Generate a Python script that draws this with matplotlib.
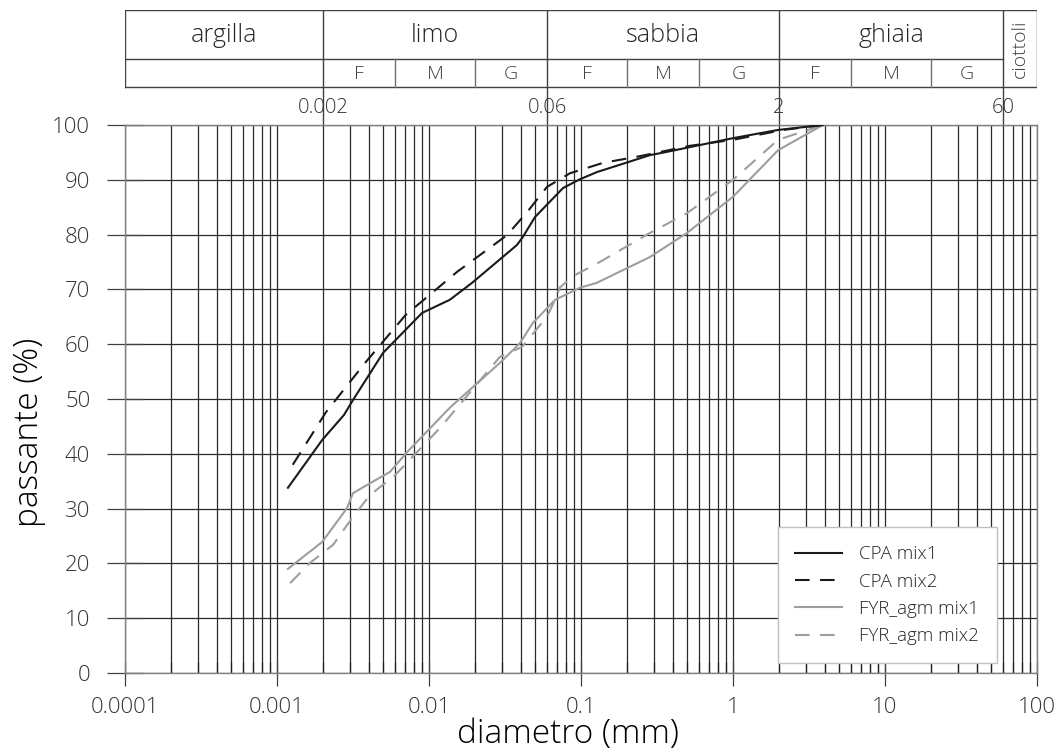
import numpy as np
import matplotlib
matplotlib.use('Agg')
import matplotlib.pyplot as plt
from matplotlib.ticker import FixedLocator, LogLocator, NullFormatter

plt.rcParams['font.family'] = ['Open Sans', 'DejaVu Sans']
plt.rcParams['font.weight'] = 'light'
plt.rcParams['axes.labelweight'] = 'light'
plt.rcParams['text.color'] = '#262626'

# grain size curves (diameter in mm, passing in %)
cpa1_d = [0.00118, 0.00198, 0.00276, 0.00316, 0.00498, 0.009, 0.0137, 0.0192,
          0.0379, 0.0415, 0.0498, 0.0762, 0.0984, 0.127, 0.284, 0.368, 1.0, 1.98, 3.9]
cpa1_p = [33.8, 42.5, 47.1, 49.8, 58.4, 65.7, 68.1, 71.2,
          78.1, 79.6, 83.2, 88.5, 90.1, 91.4, 94.5, 95.1, 97.6, 99.1, 100]

cpa2_d = [0.00127, 0.0021, 0.0038, 0.007, 0.0153, 0.0326, 0.0442, 0.0597,
          0.0847, 0.14, 0.233, 0.52, 1.0, 2.14, 3.9]
cpa2_p = [38.0, 47.6, 56.6, 65.3, 73.2, 79.9, 84.1, 88.7,
          91.2, 93.1, 94.2, 96.2, 97.3, 99.1, 100]

fyr1_d = [0.00118, 0.00198, 0.00289, 0.00316, 0.0039, 0.00554, 0.00717, 0.0137,
          0.0293, 0.0397, 0.048, 0.0675, 0.0984, 0.127, 0.284, 0.498, 1.0, 1.98, 3.9]
fyr1_p = [19.0, 23.9, 30.1, 32.8, 34.3, 36.7, 40.3, 48.4,
          56.6, 60.2, 63.8, 68.1, 70.3, 71.2, 75.9, 80.3, 86.9, 95.4, 100]

fyr2_d = [0.00122, 0.00165, 0.00234, 0.00316, 0.0041, 0.00598, 0.00834, 0.0118,
          0.0293, 0.0409, 0.0597, 0.0675, 0.0728, 0.0912, 0.133, 0.284, 0.498,
          1.0, 1.98, 3.9]
fyr2_p = [16.4, 20.1, 23.4, 28.5, 32.5, 36.1, 40.3, 44.7,
          57.7, 59.5, 65.0, 68.1, 70.4, 72.6, 75.0, 80.3, 83.9,
          90.0, 97.3, 100]

series_labels = ['CPA mix1', 'CPA mix2', 'FYR_agm mix1', 'FYR_agm mix2']

# classification table (AGI)
class_names = ['argilla', 'limo', 'sabbia', 'ghiaia']
class_edges = [0.0001, 0.002, 0.06, 2, 60]
sub_names = ['F', 'M', 'G']
sub_bounds = [[0.002, 0.006, 0.02, 0.06], [0.06, 0.2, 0.6, 2], [2, 6, 20, 60]]
top_tick_labels = ['0.002', '0.06', '2', '60']
x_tick_labels = ['0.0001', '0.001', '0.01', '0.1', '1', '10', '100']

W, H = 1058, 755
fig = plt.figure(figsize=(W / 100, H / 100), dpi=100)
L, R, T, B = 125, 1037, 125, 673
ax = fig.add_axes([L / W, (H - B) / H, (R - L) / W, (B - T) / H])

black = '#1a1a1a'
grey = '#9e9e9e'
ax.plot(cpa1_d, cpa1_p, color=black, lw=1.5, label=series_labels[0], zorder=4)
ax.plot(cpa2_d, cpa2_p, color=black, lw=1.5, ls=(0, (7, 5)), label=series_labels[1], zorder=4)
ax.plot(fyr1_d, fyr1_p, color=grey, lw=1.5, label=series_labels[2], zorder=3)
ax.plot(fyr2_d, fyr2_p, color=grey, lw=1.5, ls=(0, (7, 5)), label=series_labels[3], zorder=3)

ax.set_xscale('log')
ax.set_xlim(1e-4, 100)
ax.set_ylim(0, 100)
ax.xaxis.set_major_locator(FixedLocator([10.0 ** k for k in range(-4, 3)]))
ax.set_xticklabels(x_tick_labels)
ax.xaxis.set_minor_locator(LogLocator(base=10, subs=np.arange(2, 10)))
ax.xaxis.set_minor_formatter(NullFormatter())
ax.set_yticks(np.arange(0, 101, 10))

ax.grid(True, which='both', axis='x', color='#2a2a2a', lw=0.9)
ax.grid(True, which='major', axis='y', color='#2a2a2a', lw=0.9)
ax.set_axisbelow(True)

ax.tick_params(axis='y', direction='inout', length=26, width=0.9, color='#404040',
               pad=12, labelsize=16, labelcolor='#333333')
ax.tick_params(axis='x', which='major', direction='inout', length=18, width=0.9,
               color='#404040', pad=8, labelsize=16, labelcolor='#333333')
ax.tick_params(axis='x', which='minor', direction='in', length=8, width=0.9, color='#202020')
for s in ax.spines.values():
    s.set_color('#808080')
    s.set_linewidth(1.0)

ax.set_xlabel('diametro (mm)', fontsize=24, fontweight='light')
ax.set_ylabel('passante (%)', fontsize=24, fontweight='light')
ax.xaxis.set_label_coords(0.486, -0.082)
ax.yaxis.set_label_coords(-0.087, 0.44)

leg = ax.legend(loc='lower right', bbox_to_anchor=(0.956, 0.018), borderaxespad=0,
                fontsize=13.5, frameon=True, fancybox=False, framealpha=1,
                edgecolor='#c0c0c0', handlelength=2.5, handletextpad=0.9,
                labelspacing=0.5, borderpad=0.95)
leg.get_frame().set_linewidth(1.0)

# table above the plot, y in pixel rows from the top of the figure
tab = fig.add_axes([L / W, (H - T) / H, (R - L) / W, (T - 10) / H])
tab.set_xscale('log')
tab.set_xlim(1e-4, 100)
tab.set_ylim(T, 10)
tab.axis('off')
y_top, y_mid, y_bot = 10, 59, 87
dark = '#404040'
tab.plot([1e-4, 100], [y_top, y_top], color=dark, lw=1)
tab.plot([1e-4, 60], [y_mid, y_mid], color=dark, lw=1)
tab.plot([1e-4, 100], [y_bot, y_bot], color=dark, lw=1)
tab.plot([1e-4, 1e-4], [y_top, y_bot], color=dark, lw=1)
tab.plot([100, 100], [y_top, y_bot], color=dark, lw=1)
for e in class_edges[1:]:
    tab.plot([e, e], [y_top, T], color=dark, lw=1)
for bounds in sub_bounds:
    for e in bounds[1:3]:
        tab.plot([e, e], [y_mid, y_bot], color='#707070', lw=1)
for i, name in enumerate(class_names):
    xc = np.sqrt(class_edges[i] * class_edges[i + 1])
    tab.text(xc, (y_top + y_mid) / 2 + 1, name, ha='center', va='center', fontsize=18,
             color='#262626')
for bounds in sub_bounds:
    for j, name in enumerate(sub_names):
        xc = np.sqrt(bounds[j] * bounds[j + 1])
        tab.text(xc, (y_mid + y_bot) / 2 + 1, name, ha='center', va='center', fontsize=14,
                 color='#404040')
tab.text(np.sqrt(60 * 100), (y_top + y_bot) / 2, 'ciottoli', rotation=90, ha='center',
         va='center', fontsize=14, color='#404040')
for e, lab in zip(class_edges[1:], top_tick_labels):
    tab.text(e, 108, lab, ha='center', va='center', fontsize=14.5, color='#333333')

fig.savefig('out.png', dpi=100, facecolor='white')
